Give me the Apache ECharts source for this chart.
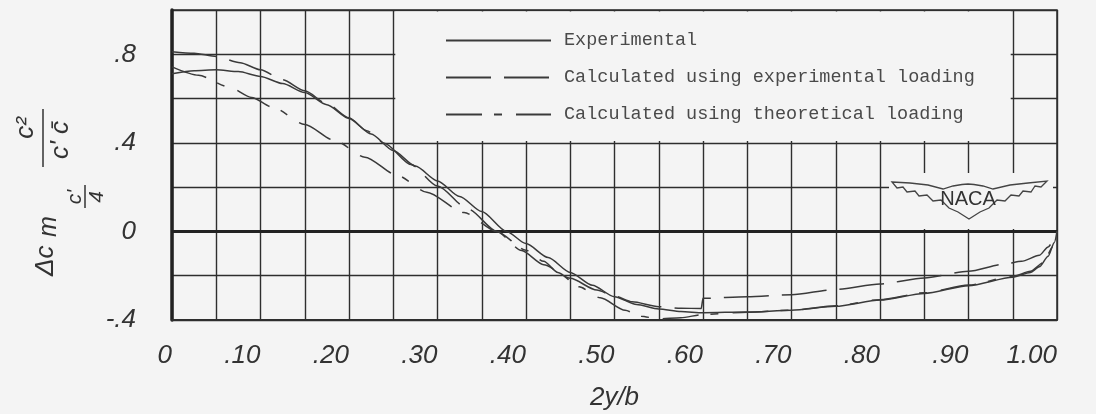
<!DOCTYPE html>
<html>
<head>
<meta charset="utf-8">
<script src="https://cdn.jsdelivr.net/npm/echarts@6/dist/echarts.min.js"></script>
<style>
html,body{margin:0;padding:0;background:#f4f4f4;}
#chart{width:1096px;height:414px;}
</style>
</head>
<body>
<div id="chart"></div>
<script>
// ---- data ----
const xTickLabels = ['0', '.10', '.20', '.30', '.40', '.50', '.60', '.70', '.80', '.90', '1.00'];
const yTickValues = [-0.4, 0, 0.4, 0.8];
const yTickLabels = ['-.4', '0', '.4', '.8'];
const seriesNames = ['Experimental', 'Calculated using experimental loading', 'Calculated using theoretical loading'];

const expX = [0, 0.025, 0.05, 0.075, 0.10, 0.125, 0.15, 0.175, 0.20, 0.225, 0.25, 0.275, 0.30, 0.325, 0.35, 0.378, 0.40, 0.425, 0.45, 0.475, 0.50, 0.525, 0.55, 0.575, 0.60, 0.65, 0.70, 0.75, 0.80, 0.85, 0.90, 0.95, 0.97, 0.98, 0.99, 0.997, 1.0];
const expY = [0.712, 0.726, 0.730, 0.722, 0.700, 0.668, 0.627, 0.572, 0.510, 0.440, 0.365, 0.295, 0.228, 0.158, 0.090, 0.0, -0.055, -0.118, -0.185, -0.243, -0.295, -0.330, -0.350, -0.362, -0.367, -0.364, -0.356, -0.338, -0.310, -0.280, -0.245, -0.207, -0.185, -0.160, -0.112, -0.050, 0.0];

const calcExpX = [0, 0.025, 0.05, 0.077, 0.10, 0.125, 0.15, 0.175, 0.20, 0.22, 0.24, 0.27, 0.30, 0.335, 0.367, 0.395, 0.42, 0.45, 0.48, 0.50, 0.52, 0.55, 0.575, 0.598, 0.60, 0.65, 0.70, 0.75, 0.80, 0.85, 0.90, 0.94, 0.96, 0.98, 0.99, 1.0];
const calcExpY = [0.812, 0.805, 0.790, 0.762, 0.730, 0.685, 0.635, 0.577, 0.513, 0.455, 0.398, 0.302, 0.205, 0.100, 0.0, -0.086, -0.150, -0.212, -0.265, -0.292, -0.318, -0.340, -0.347, -0.348, -0.302, -0.295, -0.286, -0.262, -0.237, -0.210, -0.180, -0.148, -0.135, -0.108, -0.070, 0.0];

const calcTheoX = [0, 0.03, 0.064, 0.09, 0.114, 0.15, 0.184, 0.218, 0.255, 0.288, 0.33, 0.367, 0.40, 0.42, 0.436, 0.46, 0.484, 0.512, 0.53, 0.55, 0.575, 0.60, 0.65, 0.70, 0.75, 0.80, 0.85, 0.90, 0.95, 0.97, 0.985, 0.995, 1.0];
const calcTheoY = [0.743, 0.705, 0.653, 0.605, 0.560, 0.483, 0.410, 0.335, 0.252, 0.177, 0.085, 0.0, -0.085, -0.135, -0.185, -0.250, -0.300, -0.356, -0.383, -0.395, -0.390, -0.375, -0.365, -0.356, -0.336, -0.308, -0.277, -0.242, -0.203, -0.180, -0.140, -0.070, 0.0];

// ---- build ----
const pairs = (xs, ys) => xs.map((x, i) => [x, ys[i]]);
const BG = '#f4f4f4';
const INK = '#2e2e2e';
const CURVE = '#3a3a3a';
const LBL_FONT = '"Liberation Sans", "DejaVu Sans", sans-serif';

const chart = echarts.init(document.getElementById('chart'), null, {renderer: 'canvas'});

const lineBase = {
  type: 'line', showSymbol: false, symbol: 'none', smooth: 0.25, smoothMonotone: 'x',
  silent: true, z: 5
};

// emblem outline (decoration)
const wingPts = [[892,182],[910,183],[928,185],[943,189],[953,186],[962,184.5],[968,184],[974,184.5],[983,186],[993,189],[1010,185],[1028,183],[1047,181],
  [1041,187],[1035,186],[1031,192],[1023,191],[1019,196],[1011,195],[1005,201],[997,200],[989,208],[980,212],[969,219],[958,212],[949,208],
  [941,200],[933,201],[927,195],[919,196],[915,191],[907,192],[903,187],[897,188]];

const option = {
  backgroundColor: BG,
  animation: false,
  grid: {left: 172, right: 39, top: 10, bottom: 94, outerBoundsMode: 'none', containLabel: false,
    show: true, borderColor: INK, borderWidth: 1.5, backgroundColor: 'transparent'},
  legend: {
    show: true, orient: 'vertical', left: 445, top: 31, padding: 0, itemWidth: 105, itemHeight: 14, itemGap: 18,
    selectedMode: false,
    itemStyle: {color: 'rgba(0,0,0,0)', borderColor: 'rgba(0,0,0,0)', borderWidth: 0, opacity: 0},
    textStyle: {fontFamily: '"Liberation Mono", "DejaVu Sans Mono", monospace', fontSize: 18.5, color: '#4a4a4a', padding: [0, 0, 0, 8]},
    data: seriesNames
  },
  xAxis: {
    type: 'value', min: 0, max: 1, interval: 0.05,
    axisLine: {show: true, onZero: false, lineStyle: {color: INK, width: 2}},
    axisTick: {show: false},
    splitLine: {show: true, lineStyle: {color: INK, width: 1.4}},
    axisLabel: {
      margin: 23, align: 'right', fontSize: 26, fontStyle: 'italic', fontFamily: LBL_FONT, color: '#333',
      formatter: function (v) { const k = Math.round(v * 20); return k % 2 === 0 ? xTickLabels[k / 2] : ''; }
    },
    name: '2y/b', nameLocation: 'middle', nameGap: 65,
    nameTextStyle: {fontSize: 26, fontStyle: 'italic', fontFamily: LBL_FONT, color: '#333'}
  },
  yAxis: {
    type: 'value', min: -0.4, max: 1.0, interval: 0.2,
    axisLine: {show: true, onZero: false, lineStyle: {color: '#222', width: 3.5}},
    axisTick: {show: false},
    splitLine: {show: true, lineStyle: {color: INK, width: 1.4}},
    axisLabel: {
      margin: 36, fontSize: 26, fontStyle: 'italic', fontFamily: LBL_FONT, color: '#333',
      formatter: function (v) {
        for (let i = 0; i < yTickValues.length; i++) { if (Math.abs(v - yTickValues[i]) < 1e-6) return yTickLabels[i]; }
        return '';
      }
    }
  },
  series: [
    Object.assign({}, lineBase, {
      name: seriesNames[0], data: pairs(expX, expY),
      lineStyle: {color: CURVE, width: 1.5, type: 'solid'}, itemStyle: {color: CURVE},
      markArea: {
        silent: true,
        itemStyle: {color: BG, opacity: 1, borderWidth: 0},
        data: [[{xAxis: 0.2523, yAxis: 0.408}, {xAxis: 0.9477, yAxis: 0.993}]]
      },
      markLine: {
        silent: true, symbol: 'none', label: {show: false},
        lineStyle: {color: '#222', width: 3, type: 'solid'},
        data: [{yAxis: 0}]
      }
    }),
    Object.assign({}, lineBase, {
      name: seriesNames[1], data: pairs(calcExpX, calcExpY),
      lineStyle: {color: CURVE, width: 1.5, type: [45, 13]}, itemStyle: {color: CURVE}
    }),
    Object.assign({}, lineBase, {
      name: seriesNames[2], data: pairs(calcTheoX, calcTheoY),
      lineStyle: {color: CURVE, width: 1.5, type: [36, 12, 8, 14]}, itemStyle: {color: CURVE}
    })
  ],
  graphic: [
    {type: 'rect', z: 20, shape: {x: 889, y: 173, width: 164, height: 56}, style: {fill: BG}},
    {type: 'polygon', z: 21, shape: {points: wingPts}, style: {fill: BG, stroke: '#444', lineWidth: 1.3}},
    {type: 'text', z: 22, x: 968, y: 199,
      style: {text: 'NACA', font: '20px "Liberation Sans", sans-serif', fill: '#333', align: 'center', verticalAlign: 'middle'}},
    {type: 'group', x: 45, y: 195, rotation: Math.PI / 2, z: 20, children: [
      {type: 'text', x: -81, y: 1, style: {text: 'Δc', font: 'italic 26px ' + LBL_FONT, fill: '#333', align: 'left', verticalAlign: 'middle'}},
      {type: 'text', x: -42, y: 4, style: {text: 'm', font: 'italic 25px ' + LBL_FONT, fill: '#333', align: 'left', verticalAlign: 'middle'}},
      {type: 'text', x: -2, y: 30, style: {text: "c'", font: 'italic 21px ' + LBL_FONT, fill: '#333', align: 'center', verticalAlign: 'middle'}},
      {type: 'line', shape: {x1: -13, y1: 40, x2: 10, y2: 40}, style: {stroke: '#333', lineWidth: 1.5}},
      {type: 'text', x: -2, y: 52, style: {text: '4', font: 'italic 21px ' + LBL_FONT, fill: '#333', align: 'center', verticalAlign: 'middle'}},
      {type: 'text', x: 67, y: -19, style: {text: 'c²', font: 'italic 26px ' + LBL_FONT, fill: '#333', align: 'center', verticalAlign: 'middle'}},
      {type: 'line', shape: {x1: 28, y1: -2, x2: 86, y2: -2}, style: {stroke: '#333', lineWidth: 1.5}},
      {type: 'text', x: 55, y: 16, style: {text: "c' c̄", font: 'italic 26px ' + LBL_FONT, fill: '#333', align: 'center', verticalAlign: 'middle'}}
    ]}
  ]
};
chart.setOption(option);
</script>
</body>
</html>
